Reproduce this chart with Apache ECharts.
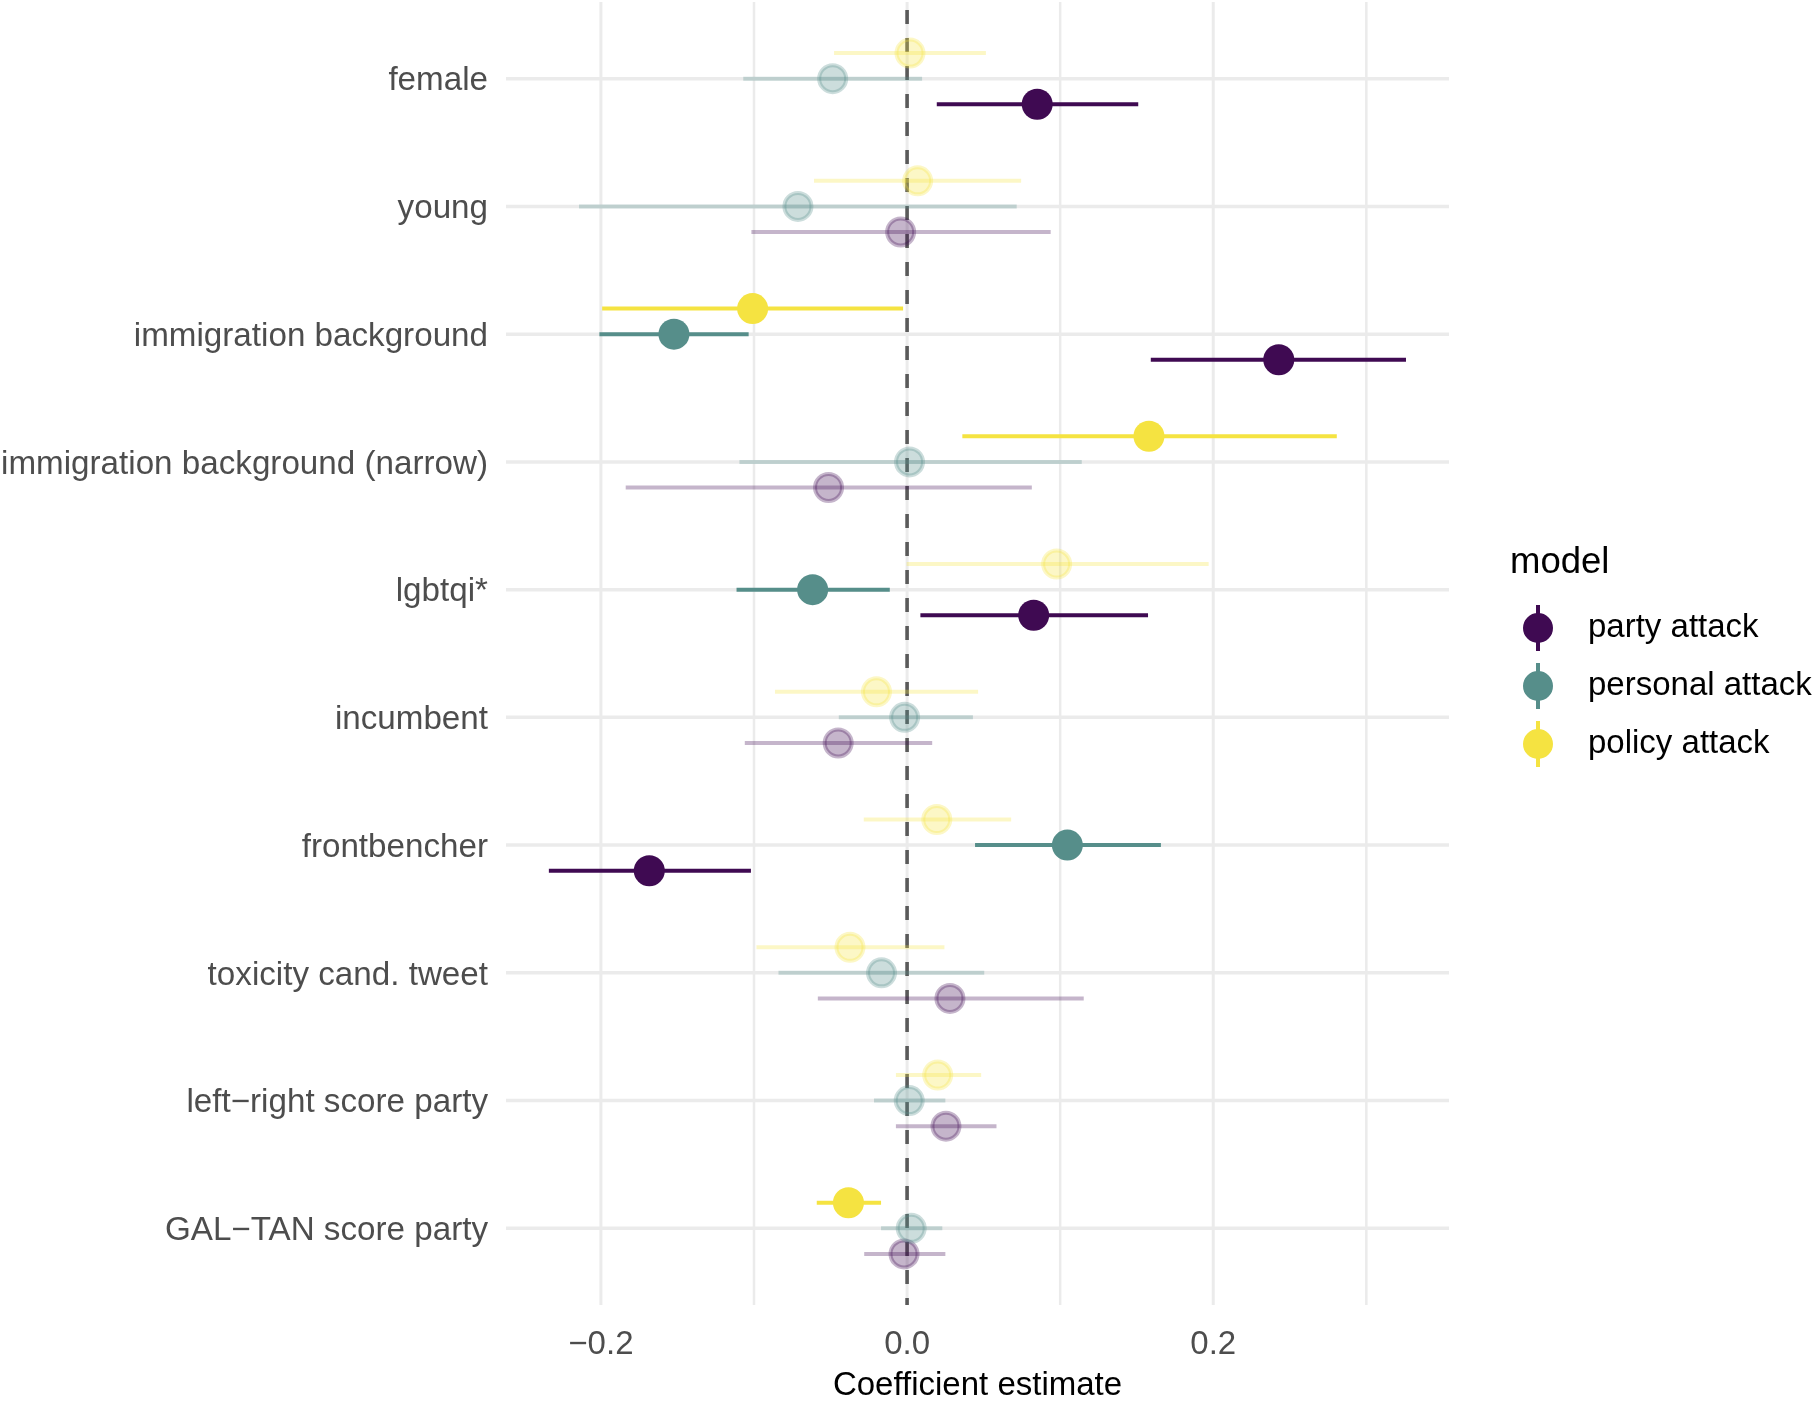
<!DOCTYPE html>
<html>
<head>
<meta charset="utf-8">
<script src="https://cdn.jsdelivr.net/npm/echarts@6/dist/echarts.min.js"></script>
<style>
  html, body { margin: 0; padding: 0; background: #fff; }
  #chart { width: 1817px; height: 1404px; }
</style>
</head>
<body>
<div id="chart"></div>
<script>
// rows of the plot, top to bottom
var categories = ['female', 'young', 'immigration background', 'immigration background (narrow)',
    'lgbtqi*', 'incumbent', 'frontbencher', 'toxicity cand. tweet',
    'left\u2212right score party', 'GAL\u2212TAN score party'];
var models = ['party attack', 'personal attack', 'policy attack'];

// party attack model
var partyEst  = [0.085, -0.0042, 0.2428, -0.0513, 0.0827, -0.045, -0.1684, 0.028, 0.0254, -0.002];
var partyLow  = [0.0194, -0.1017, 0.1592, -0.1838, 0.0087, -0.106, -0.234, -0.0583, -0.0073, -0.028];
var partyHigh = [0.151, 0.0938, 0.3259, 0.0815, 0.1574, 0.0164, -0.102, 0.1154, 0.0584, 0.025];

// personal attack model
var personalEst  = [-0.0486, -0.0713, -0.1523, 0.0016, -0.0617, -0.0016, 0.1047, -0.0167, 0.0014, 0.0027];
var personalLow  = [-0.107, -0.2143, -0.201, -0.1095, -0.1114, -0.0446, 0.0444, -0.084, -0.0216, -0.017];
var personalHigh = [0.0098, 0.0716, -0.1035, 0.1141, -0.0113, 0.043, 0.1658, 0.0504, 0.025, 0.023];

// policy attack model
var policyEst  = [0.0019, 0.0069, -0.1009, 0.158, 0.0977, -0.02, 0.0194, -0.0373, 0.02, -0.0383];
var policyLow  = [-0.0477, -0.0608, -0.1992, 0.0361, -0.0003, -0.0863, -0.0283, -0.0984, -0.0073, -0.059];
var policyHigh = [0.0515, 0.0745, -0.0026, 0.2807, 0.197, 0.0464, 0.068, 0.0244, 0.0484, -0.017];

var xTickLabels = [-0.2, 0, 0.2];
var xMajorBreaks = [-0.2, 0, 0.2];
var xMinorBreaks = [-0.1, 0.1, 0.3];

var colors = { 'party attack': '#3f0a52', 'personal attack': '#568e8a', 'policy attack': '#f5e341' };
var dodge  = { 'party attack': 0.2, 'personal attack': 0, 'policy attack': -0.2 };
var FADE = 0.3;
var FONT = 'Liberation Sans';

var modelData = {
    'party attack':    [partyEst, partyLow, partyHigh],
    'personal attack': [personalEst, personalLow, personalHigh],
    'policy attack':   [policyEst, policyLow, policyHigh]
};

var series = [];

// horizontal grid lines at each row
series.push({
    type: 'custom', silent: true, z: 1,
    data: categories.map(function (c, i) { return [0, i + 1]; }),
    encode: { x: 0, y: 1 },
    renderItem: function (params, api) {
        var cs = params.coordSys;
        var y = api.coord([0, api.value(1)])[1];
        return { type: 'line', shape: { x1: cs.x, y1: y, x2: cs.x + cs.width, y2: y },
                 style: { stroke: '#ebebeb', lineWidth: 3.5 } };
    }
});

// vertical grid lines
function vGrid(breaks, width) {
    return {
        type: 'custom', silent: true, z: 1,
        data: breaks.map(function (b) { return [b, 1]; }),
        encode: { x: 0, y: 1 },
        renderItem: function (params, api) {
            var cs = params.coordSys;
            var x = api.coord([api.value(0), 1])[0];
            return { type: 'line', shape: { x1: x, y1: cs.y, x2: x, y2: cs.y + cs.height },
                     style: { stroke: '#ebebeb', lineWidth: width } };
        }
    };
}
series.push(vGrid(xMajorBreaks, 3));
series.push(vGrid(xMinorBreaks, 2.5));

// dashed zero line
series.push({
    type: 'custom', silent: true, z: 2,
    data: [[0, 1]],
    encode: { x: 0, y: 1 },
    renderItem: function (params, api) {
        var cs = params.coordSys;
        var x = api.coord([api.value(0), 1])[0];
        return { type: 'line', shape: { x1: x, y1: cs.y, x2: x, y2: cs.y + cs.height },
                 style: { stroke: '#5a5a5a', lineWidth: 3.6, lineDash: [14, 14], lineDashOffset: 20 } };
    }
});

models.forEach(function (m) {
    var est = modelData[m][0], low = modelData[m][1], high = modelData[m][2];
    var col = colors[m];
    var bars = [], pts = [];
    for (var i = 0; i < categories.length; i++) {
        var y = i + 1 + dodge[m];
        var faded = low[i] <= 0 && high[i] >= 0;
        bars.push([y, low[i], high[i], faded ? 1 : 0]);
        pts.push(faded ? {
            value: [est[i], y],
            symbolSize: 27,
            itemStyle: { color: col, borderColor: col, borderWidth: 4, opacity: FADE }
        } : {
            value: [est[i], y],
            symbolSize: 31,
            itemStyle: { color: col, opacity: 1 }
        });
    }
    series.push({
        name: m, type: 'custom', silent: true, z: 3,
        data: bars,
        encode: { x: [1, 2], y: 0 },
        renderItem: function (params, api) {
            var y = api.value(0);
            var p1 = api.coord([api.value(1), y]);
            var p2 = api.coord([api.value(2), y]);
            return { type: 'line', shape: { x1: p1[0], y1: p1[1], x2: p2[0], y2: p2[1] },
                     style: { stroke: col, lineWidth: 4, opacity: api.value(3) ? FADE : 1 } };
        }
    });
    series.push({
        name: m, type: 'scatter', silent: true, z: 4,
        symbol: 'circle',
        itemStyle: { color: col },
        data: pts
    });
});

var keyIcon = 'path://M13 0 H17 V46 H13 Z M0 23 A15 15 0 1 1 30 23 A15 15 0 1 1 0 23 Z';

var option = {
    animation: false,
    backgroundColor: '#ffffff',
    textStyle: { fontFamily: FONT },
    title: {
        text: 'model', left: 1510, top: 544, padding: 0,
        textStyle: { fontFamily: FONT, fontSize: 36.5, fontWeight: 'normal', color: '#000' }
    },
    legend: {
        orient: 'vertical', left: 1523, top: 605, padding: 0,
        itemWidth: 30, itemHeight: 46, itemGap: 12,
        selectedMode: false,
        icon: keyIcon,
        data: models.map(function (m) { return { name: m, itemStyle: { color: colors[m] } }; }),
        textStyle: { fontFamily: FONT, fontSize: 33, color: '#000', padding: [0, 0, 0, 30] }
    },
    grid: { left: 506, right: 368, top: 2, bottom: 99, containLabel: false, outerBoundsMode: 'none' },
    xAxis: {
        type: 'value', min: -0.262, max: 0.354,
        name: 'Coefficient estimate', nameLocation: 'middle', nameGap: 64,
        nameTextStyle: { fontFamily: FONT, fontSize: 33, color: '#000' },
        axisLine: { show: false }, axisTick: { show: false }, splitLine: { show: false },
        axisLabel: {
            customValues: xTickLabels,
            margin: 23,
            fontFamily: FONT, fontSize: 33, color: '#4d4d4d',
            formatter: function (v) { return v.toFixed(1).replace('-', '\u2212'); }
        }
    },
    yAxis: {
        type: 'value', min: 0.4, max: 10.6, inverse: true,
        axisLine: { show: false }, axisTick: { show: false }, splitLine: { show: false },
        axisLabel: {
            customValues: categories.map(function (c, i) { return i + 1; }),
            margin: 18,
            fontFamily: FONT, fontSize: 33.2, color: '#4d4d4d',
            rich: {
                lab: { fontFamily: FONT, fontSize: 33.2, color: '#4d4d4d', padding: [5, 0, 0, 0] }
            },
            formatter: function (v) {
                var s = categories[Math.round(v) - 1];
                return s ? '{lab|' + s + '}' : '';
            }
        }
    },
    series: series
};

var chart = echarts.init(document.getElementById('chart'), null, { renderer: 'canvas' });
chart.setOption(option);
</script>
</body>
</html>
